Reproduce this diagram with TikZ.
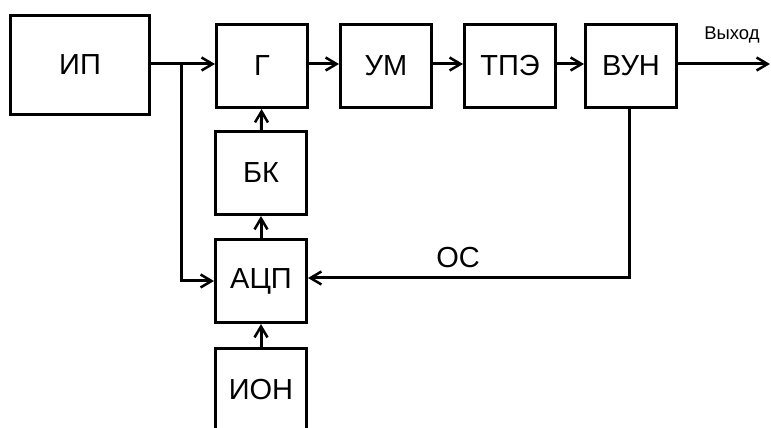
\documentclass[tikz,border=0pt]{standalone}
\usepackage{fontspec}
\setmainfont{Liberation Sans}
\usetikzlibrary{arrows.meta,positioning}

\begin{document}
\begin{tikzpicture}[
  x=0.02cm, y=-0.02cm,
  every node/.style={font=\fontsize{16.5}{18}\selectfont},
  block/.style={rectangle, draw, line width=0.06cm, minimum width=1.82cm, minimum height=1.66cm, inner sep=0pt},
  wire/.style={line width=0.06cm},
  >={Straight Barb[length=0.22cm, width=0.26cm, line width=0.05cm]}
]
\clip (0,0) rectangle (771,428);
\fill[white] (0,0) rectangle (771,428);

% Blocks
\node[block, minimum width=2.8cm, minimum height=2cm] (ip) at (80,65) {ИП};
\node[block] (gen) at (262,66) {Г};
\node[block] (um) at (386,66) {УМ};
\node[block] (tpe) at (510,66) {ТПЭ};
\node[block] (vun) at (631,66) {ВУН};
\node[block] (bk) at (261,173) {БК};
\node[block] (adc) at (261,281) {АЦП};
\node[block] (ion) at (261,390) {ИОН};

% Junctions and free ends
\coordinate (j) at (181,64);
\coordinate (out) at (770,64);

% Connections
\draw[wire] (j -| ip.east) -- (j);
\draw[wire,->] (j) -- (j -| gen.west);
\draw[wire,->] (j) |- (adc.west);
\draw[wire,->] ([yshift=0.04cm]gen.east) -- ([yshift=0.04cm]um.west);
\draw[wire,->] ([yshift=0.04cm]um.east) -- ([yshift=0.04cm]tpe.west);
\draw[wire,->] ([yshift=0.04cm]tpe.east) -- ([yshift=0.04cm]vun.west);
\draw[wire,->] (out -| vun.east) -- (out);
\draw[wire,->] (bk) -- (gen);
\draw[wire,->] (adc) -- (bk);
\draw[wire,->] (ion) -- (adc);
\draw[wire,->] ([xshift=-0.04cm]vun.south) |- ([yshift=0.06cm]adc.east);

% Labels
\node[font=\fontsize{10.5}{12}\selectfont] (outlbl) at (732,35) {Выход};
\node (fb) at (458,258) {ОС};

\end{tikzpicture}
\end{document}
